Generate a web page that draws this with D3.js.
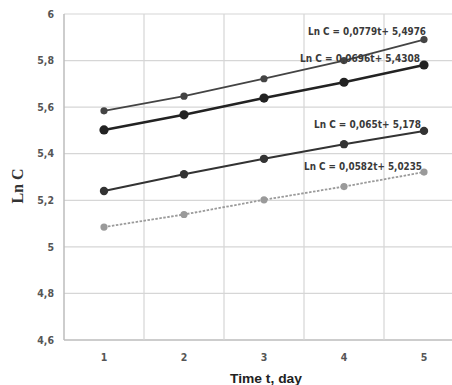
<!DOCTYPE html>
<html><head><meta charset="utf-8">
<script src="https://cdn.jsdelivr.net/npm/d3@7"></script>
<style>body{margin:0;background:#fff;}svg{display:block;}</style>
</head><body>
<svg id="c" width="452" height="385"></svg>
<script>
const days = [1, 2, 3, 4, 5];
const yTicks = [4.6, 4.8, 5, 5.2, 5.4, 5.6, 5.8, 6];
const s1 = [5.584, 5.647, 5.722, 5.800, 5.890];
const s2 = [5.502, 5.567, 5.639, 5.707, 5.781];
const s3 = [5.240, 5.312, 5.378, 5.441, 5.498];
const s4 = [5.085, 5.139, 5.202, 5.259, 5.321];
const labels = ["Ln C = 0,0779t+ 5,4976", "Ln C = 0,0696t+ 5,4308", "Ln C = 0,065t+ 5,178", "Ln C = 0,0582t+ 5,0235"];

const series = [
  {v: s1, color: "#444", w: 1.8, r: 3.6, dash: null, label: labels[0], dy: -8, dx: 2, tw: 118},
  {v: s2, color: "#222", w: 2.6, r: 4.6, dash: null, label: labels[1], dy: -6, dx: -4, tw: 120},
  {v: s3, color: "#333", w: 2.0, r: 4.2, dash: null, label: labels[2], dy: -6, dx: -3, tw: 107},
  {v: s4, color: "#9a9a9a", w: 1.8, r: 3.6, dash: "2.5,1.5", label: labels[3], dy: -6, dx: -2, tw: 118}
];

const svg = d3.select("#c");
const L = 64, R = 464, T = 14, B = 340;
const xb = d3.scaleBand().domain(days).range([L, R]);
const x = d => xb(d) + xb.bandwidth() / 2;
const y = d3.scaleLinear().domain([4.6, 6]).range([B, T]);
const fmt = v => d3.format(".1f")(v).replace(/\.0$/, "").replace(".", ",");

// grid
const g = svg.append("g");
g.selectAll("line.h").data(yTicks).join("line")
  .attr("x1", L).attr("x2", R).attr("y1", d => y(d)).attr("y2", d => y(d))
  .attr("stroke", d => d === 4.6 ? "#bdbdbd" : "#d6d6d6").attr("stroke-width", d => d === 4.6 ? 1.5 : 1.2);
g.selectAll("line.v").data(days.concat([6])).join("line")
  .attr("x1", (d, i) => i === 5 ? R : xb(d)).attr("x2", (d, i) => i === 5 ? R : xb(d))
  .attr("y1", T).attr("y2", B)
  .attr("stroke", (d, i) => i === 0 ? "#bdbdbd" : "#d6d6d6").attr("stroke-width", (d, i) => i === 0 ? 1.5 : 1.2);

// y tick labels
svg.append("g").selectAll("text").data(yTicks).join("text")
  .attr("x", L - 10).attr("y", d => y(d)).attr("dy", "0.35em")
  .attr("text-anchor", "end").attr("font-family", "'DejaVu Sans Condensed', 'Open Sans', sans-serif")
  .attr("font-size", 10.5).attr("font-weight", "bold").attr("fill", "#555")
  .text(fmt);

// x tick labels
svg.append("g").selectAll("text").data(days).join("text")
  .attr("x", d => x(d)).attr("y", 357).attr("dy", "0.35em")
  .attr("text-anchor", "middle").attr("font-family", "'DejaVu Sans Condensed', 'Open Sans', sans-serif")
  .attr("font-size", 10.5).attr("font-weight", "bold").attr("fill", "#555")
  .text(d => d);

// series
const line = d3.line().x((d, i) => x(days[i])).y(d => y(d));
series.forEach(s => {
  svg.append("path").datum(s.v).attr("d", line).attr("fill", "none")
    .attr("stroke", s.color).attr("stroke-width", s.w).attr("stroke-dasharray", s.dash);
  svg.append("g").selectAll("circle").data(s.v).join("circle")
    .attr("cx", (d, i) => x(days[i])).attr("cy", d => y(d)).attr("r", s.r)
    .attr("fill", s.color);
  svg.append("text").attr("x", x(5) + s.dx).attr("y", y(s.v[4]) + s.dy).attr("dy", "0.35em")
    .attr("text-anchor", "end").attr("font-family", "'DejaVu Sans Condensed', 'Open Sans', sans-serif")
    .attr("font-size", 10).attr("font-weight", "bold").attr("fill", "#3a3a3a")
    .attr("textLength", s.tw).attr("lengthAdjust", "spacingAndGlyphs")
    .text(s.label);
});

// axis titles
svg.append("text").attr("transform", `translate(23,${186}) rotate(-90)`)
  .attr("text-anchor", "middle").attr("font-family", "'Liberation Serif', 'Times New Roman', serif")
  .attr("font-size", 16).attr("font-weight", "bold").attr("fill", "#333").text("Ln C");
svg.append("text").attr("x", 266).attr("y", 378).attr("dy", "0.35em")
  .attr("text-anchor", "middle").attr("font-family", "'Liberation Sans', Arial, sans-serif")
  .attr("font-size", 13).attr("font-weight", "bold").attr("fill", "#222")
  .attr("textLength", 72).attr("lengthAdjust", "spacingAndGlyphs")
  .text("Time t, day");
</script>
</body></html>
